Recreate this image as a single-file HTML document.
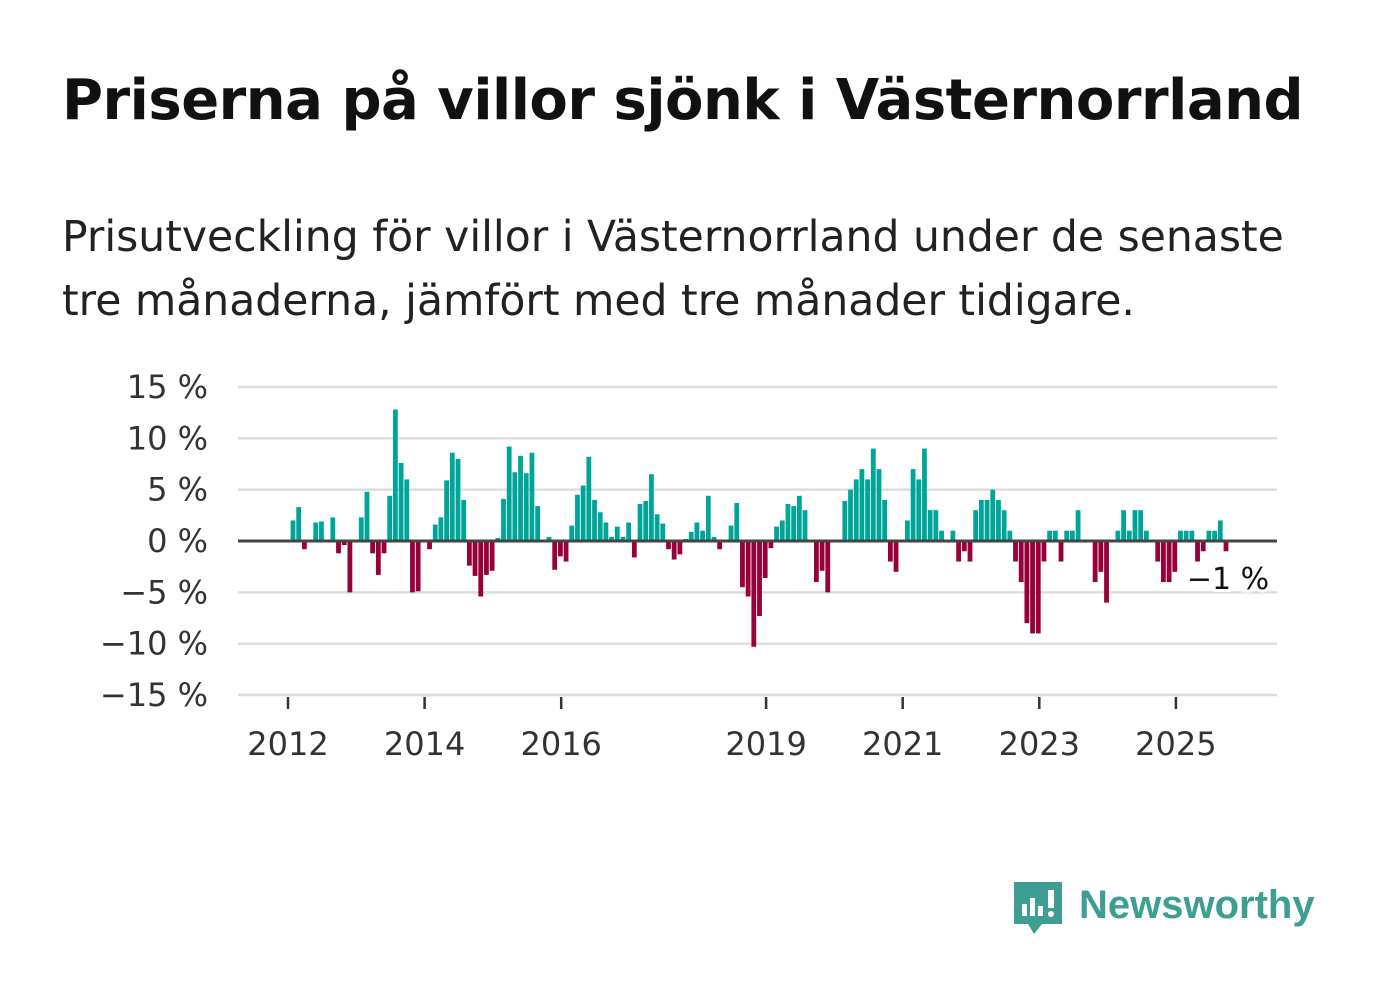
<!DOCTYPE html>
<html><head><meta charset="utf-8"><style>
body{margin:0;background:#fff;width:1382px;height:999px;overflow:hidden;font-family:"Liberation Sans","DejaVu Sans",sans-serif;}
h1{position:absolute;left:62px;top:68px;margin:0;font-size:56px;font-weight:bold;color:#111;font-family:"DejaVu Sans","Liberation Sans",sans-serif;letter-spacing:-0.5px}
p{position:absolute;left:62px;top:206px;margin:0;font-size:42.5px;line-height:64px;color:#222;width:1260px;font-family:"DejaVu Sans","Liberation Sans",sans-serif}
</style></head><body>
<h1>Priserna på villor sjönk i Västernorrland</h1>
<p>Prisutveckling för villor i Västernorrland under de senaste tre månaderna, jämfört med tre månader tidigare.</p>
<svg id="chart" width="1382" height="999" style="position:absolute;left:0;top:0" font-family="DejaVu Sans, Liberation Sans, sans-serif"></svg>
<script>
const values=[2,3.3,-0.8,0,1.8,1.9,0,2.3,-1.2,-0.4,-5,0,2.3,4.8,-1.2,-3.3,-1.2,4.4,12.8,7.6,6,-5,-4.9,0,-0.8,1.6,2.3,5.9,8.6,8,4,-2.4,-3.4,-5.4,-3.3,-2.9,0.3,4.1,9.2,6.7,8.3,6.6,8.6,3.4,0,0.4,-2.8,-1.5,-2,1.5,4.5,5.4,8.2,4,2.8,1.8,0.4,1.4,0.4,1.8,-1.6,3.6,3.9,6.5,2.6,1.7,-0.8,-1.8,-1.3,0.2,0.9,1.8,1,4.4,0.4,-0.8,0,1.5,3.7,-4.5,-5.4,-10.3,-7.3,-3.6,-0.7,1.4,2,3.6,3.4,4.4,3,0,-4,-2.9,-5,0,0,3.9,5,6,7,6,9,7,4,-2,-3,0,2,7,6,9,3,3,1,0,1,-2,-1,-2,3,4,4,5,4,3,1,-2,-4,-8,-9,-9,-2,1,1,-2,1,1,3,0,0,-4,-3,-6,0,1,3,1,3,3,1,0,-2,-4,-4,-3,1,1,1,-2,-1,1,1,2,-1];
const yTicks=[15,10,5,0,-5,-10,-15];
const yLabels=["15 %","10 %","5 %","0 %","−5 %","−10 %","−15 %"];
const xYears=[2012,2014,2016,2019,2021,2023,2025];
const lastLabel="−1 %";
const NS="http://www.w3.org/2000/svg",svg=document.getElementById('chart');
const y=v=>541-v*10.27;
const xYear=yr=>288+(yr-2012)*68.3;
const x=i=>293+i*(1226-293)/(values.length-1);
function mk(t,a){const e=document.createElementNS(NS,t);for(const k in a)e.setAttribute(k,a[k]);svg.appendChild(e);return e;}
yTicks.forEach((t,i)=>{
 if(t!==0){const l=mk('line',{x1:238,x2:1277,y1:y(t),y2:y(t),stroke:'#dddddd','stroke-width':2.5});
 
 }
 const tx=mk('text',{x:208,y:y(t)+11,'text-anchor':'end','font-size':32,fill:'#333'});tx.textContent=yLabels[i];
 
 
});
values.forEach((v,i)=>{
 const r=mk('rect',{x:x(i)-2.4,width:4.8,y:v>=0?y(v):y(0),height:Math.abs(y(v)-y(0)),fill:v>=0?'#00a599':'#98003a'});
 
 
});
const z=mk('line',{x1:238,x2:1277,y1:y(0),y2:y(0),stroke:'#444','stroke-width':3});


xYears.forEach(yr=>{
 const tk=mk('line',{x1:xYear(yr),x2:xYear(yr),y1:697,y2:709,stroke:'#333','stroke-width':2.5});
 
 
 const t=mk('text',{x:xYear(yr),y:755,'text-anchor':'middle','font-size':32,fill:'#333'});t.textContent=yr;
 
 
});
const ll=mk('text',{x:1228,y:589,'text-anchor':'middle','font-size':30,fill:'#111',stroke:'#fff','stroke-width':6,'paint-order':'stroke'});ll.textContent=lastLabel;


</script>
<svg width="320" height="70" style="position:absolute;left:1008px;top:876px">
<path d="M6 6h48v42H34l-8 10-6-10H6z" fill="#3d9e91"/>
<rect x="14" y="28" width="5" height="12" fill="#fff"/><rect x="22" y="22" width="5" height="18" fill="#fff"/><rect x="30" y="30" width="5" height="10" fill="#fff"/><rect x="40" y="14" width="6" height="18" fill="#fff"/><circle cx="43" cy="38" r="3" fill="#fff"/>
<text x="71" y="42" font-size="40" font-weight="bold" fill="#3d9e91" font-family="Liberation Sans, sans-serif">Newsworthy</text>
</svg>
</body></html>
